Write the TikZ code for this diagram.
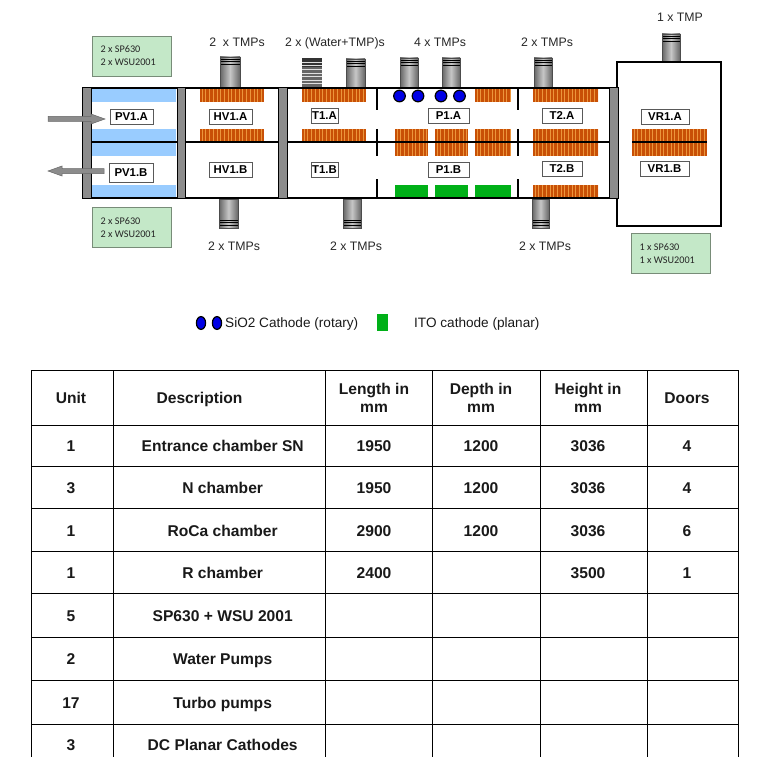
\documentclass[tikz,border=0pt]{standalone}
\usepackage{fontspec}
\setmainfont{Liberation Sans}
\newfontfamily\notefont{Carlito}
\usetikzlibrary{arrows.meta, positioning, calc}
\definecolor{brickred}{RGB}{200, 80, 6}
\definecolor{brickline}{RGB}{236, 150, 60}
\definecolor{coatblue}{RGB}{153, 204, 255}
\definecolor{notegreen}{RGB}{196, 232, 200}
\definecolor{noteline}{RGB}{120, 140, 120}
\definecolor{cathgreen}{RGB}{0, 176, 24}
\definecolor{wallgray}{RGB}{140, 140, 140}
\tikzset{
  wall/.style={line width=2.2pt, black},
  doorbar/.style={fill=wallgray, draw=black, line width=1pt},
  tag/.style={draw=black!65, fill=white, line width=0.7pt, inner sep=0pt, font=\fontsize{11.4}{13}\selectfont\bfseries},
  note/.style={draw=noteline, fill=notegreen, line width=0.8pt, minimum width=79pt, minimum height=40pt, inner sep=0pt,
    align=left, text=black!85, font=\notefont\fontsize{10.2}{13}\selectfont},
  pumpcount/.style={font=\fontsize{12.3}{14}\selectfont, text=black!85, text height=9pt, text depth=2.5pt},
  legendtext/.style={font=\fontsize{13.6}{15}\selectfont, text=black!90, text height=10pt, text depth=3pt},
  headcell/.style={font=\fontsize{15.6}{18}\selectfont\bfseries, text=black!90, align=center},
  cell/.style={headcell, text height=11.5pt, text depth=3pt},
  pumpbody/.style={left color=black!60, right color=black!60, middle color=black!22, draw=none},
  flowarrow/.style={fill=wallgray, draw=black!60, line width=0.5pt}
}
% brick strip: x1, y1, x2, y2
\newcommand{\brickstrip}[4]{
  \fill[brickred] (#1, #2) rectangle (#3, #4);
  \begin{scope}
    \clip (#1, #2) rectangle (#3, #4);
    \foreach \n in {0, ..., 20} {
      \draw[brickline, line width=0.5pt] (#1+2+3.7*\n, #2) -- (#1+2+3.7*\n, #4);
    }
  \end{scope}
}
% pump: x1, x2, y at flange end, y at chamber end
\newcommand{\pumpbox}[5]{
  \fill[pumpbody] (#1, #3) rectangle (#2, #4);
  \foreach \d in {0, 2.6, 5.2} {
    \draw[black, line width=0.8pt] (#1, #5+\d) -- (#2, #5+\d);
  }
  \draw[black!70, line width=0.5pt] (#1, #3) rectangle (#2, #4);
}
\begin{document}
\begin{tikzpicture}[x=1pt, y=-1pt]
  \useasboundingbox (0, 0) rectangle (757, 757);

  % Coating strips in the entrance chamber
  \fill[coatblue] (92, 89) rectangle (176, 102);
  \fill[coatblue] (92, 129) rectangle (176, 141);
  \fill[coatblue] (92, 143) rectangle (176, 156);
  \fill[coatblue] (92, 185) rectangle (176, 198);

  % Brick strips
  \brickstrip{200}{89}{264}{102}
  \brickstrip{200}{129}{264}{142}
  \brickstrip{302}{89}{366}{102}
  \brickstrip{302}{129}{366}{142}
  \brickstrip{475}{89}{511}{102}
  \foreach \xa/\xb in {395/428, 435/468, 475/511, 533/598, 632/707} {
    \brickstrip{\xa}{129}{\xb}{156}
  }
  \brickstrip{533}{89}{598}{102}
  \brickstrip{533}{185}{598}{198}
  \foreach \xa/\xb in {395/428, 435/468, 475/511} {
    \fill[cathgreen] (\xa, 185) rectangle (\xb, 199);
  }

  % Pumps
  \pumpbox{220}{240}{57}{87}{59}
  \pumpbox{346}{365}{59}{87}{61}
  \pumpbox{400}{418}{58}{87}{60}
  \pumpbox{442}{460}{58}{87}{60}
  \pumpbox{534}{552}{58}{87}{60}
  \pumpbox{662}{680}{34}{62}{36}
  \pumpbox{219}{238}{199}{228}{220}
  \pumpbox{343}{361}{199}{228}{220}
  \pumpbox{532}{549}{199}{228}{220}
  % Water pump
  \fill[black!60] (302, 58) rectangle (322, 87);
  \fill[black!80] (302, 58) rectangle (322, 67);
  \foreach \y in {62, 65, 69, 73, 76.5, 80, 83.5} {
    \draw[black!12, line width=0.8pt] (302, \y) -- (322, \y);
  }

  % Chamber walls
  \draw[wall] (82, 88) -- (618, 88);
  \draw[wall] (82, 142) -- (618, 142);
  \draw[wall] (82, 198) -- (618, 198);
  \draw[wall] (632, 142) -- (707, 142);
  \draw[wall] (617, 62) rectangle (721, 226);
  \foreach \xa/\xb in {82/91, 177/185, 278/287, 609/618} {
    \draw[doorbar] (\xa, 88) rectangle (\xb, 198);
  }
  \foreach \x in {377, 518} {
    \draw[wall] (\x, 88) -- (\x, 110);
    \draw[wall] (\x, 129) -- (\x, 156);
    \draw[wall] (\x, 179) -- (\x, 199);
  }

  % Rotary cathodes
  \foreach \x in {399.5, 418, 441, 459.5} {
    \fill[blue!90!black, draw=black, line width=1.2pt] (\x, 96) circle (5.8pt);
  }

  % Chamber tags
  \node[tag, minimum width=43pt, minimum height=15pt] (pva) at (131.5, 116.5) {PV1.A};
  \node[tag, minimum width=44pt, minimum height=19pt] (pvb) at (131, 172.5) {PV1.B};
  \node[tag, minimum width=43pt, minimum height=15pt] (hva) at (230.5, 116.5) {HV1.A};
  \node[tag, minimum width=43pt, minimum height=15pt] (hvb) at (230.5, 169.5) {HV1.B};
  \node[tag, minimum width=27pt, minimum height=15pt] (tia) at (324.5, 115.5) {T1.A};
  \node[tag, minimum width=27pt, minimum height=15pt] (tib) at (324.5, 169.5) {T1.B};
  \node[tag, minimum width=41pt, minimum height=15pt] (pa) at (448.5, 116) {P1.A};
  \node[tag, minimum width=41pt, minimum height=15pt] (pb) at (448.5, 169.5) {P1.B};
  \node[tag, minimum width=40pt, minimum height=15pt] (tta) at (562, 116) {T2.A};
  \node[tag, minimum width=40pt, minimum height=15pt] (ttb) at (562, 169) {T2.B};
  \node[tag, minimum width=48pt, minimum height=15pt] (vra) at (665, 117) {VR1.A};
  \node[tag, minimum width=49pt, minimum height=15pt] (vrb) at (664.5, 169) {VR1.B};

  % Load and unload arrows
  \draw[flowarrow] (48, 116.5) -- (91, 116.5) -- (91, 114) -- (105, 119) -- (91, 124) -- (91, 121.5) -- (48, 121.5) -- cycle;
  \draw[flowarrow] (104, 168.5) -- (62, 168.5) -- (62, 166) -- (48, 171) -- (62, 176) -- (62, 173.5) -- (104, 173.5) -- cycle;

  % Pump notes
  \node[note] (notea) at (131.5, 56) {\hspace*{-6.5pt}2 x SP630\\\hspace*{-6.5pt}2 x WSU2001};
  \node[note] (noteb) at (131.5, 227.5) {\hspace*{-6.5pt}2 x SP630\\\hspace*{-6.5pt}2 x WSU2001};
  \node[note] (notec) at (670.5, 253.5) {\hspace*{-6.5pt}1 x SP630\\\hspace*{-6.5pt}1 x WSU2001};

  % Pump counts
  \node[pumpcount] (cnta) at (237, 43) {2\ \ x TMPs};
  \node[pumpcount] (cntb) at (335, 43) {2 x (Water+TMP)s};
  \node[pumpcount] (cntc) at (440, 43) {4 x TMPs};
  \node[pumpcount] (cntd) at (547, 43) {2 x TMPs};
  \node[pumpcount] (cnte) at (680, 18) {1 x TMP};
  \node[pumpcount] (cntf) at (234, 247) {2 x TMPs};
  \node[pumpcount] (cntg) at (356, 247) {2 x TMPs};
  \node[pumpcount] (cnth) at (545, 247) {2 x TMPs};

  % Legend
  \foreach \x in {201, 217} {
    \fill[blue!90!black, draw=black, line width=1.2pt] (\x, 323) ellipse (4.6pt and 6.4pt);
  }
  \node[legendtext, anchor=west, inner sep=0pt] (sio) at (225, 323.5) {SiO2 Cathode (rotary)};
  \fill[cathgreen] (377, 314) rectangle (388, 331);
  \node[legendtext, anchor=west, inner sep=0pt] (ito) at (414, 323.5) {ITO cathode (planar)};

  % Table grid
  \foreach \y in {370, 425.3, 466.7, 508.3, 551.3, 593.3, 637.3, 680.3, 724.3} {
    \draw[line width=0.8pt] (31.3, \y) -- (738.3, \y);
  }
  \foreach \x in {31.3, 113.7, 325.3, 432.3, 540.3, 647.3, 738.3} {
    \draw[line width=0.8pt] (\x, 370) -- (\x, 757);
  }

  % Table header
  \node[cell] (hunit) at (71, 399) {Unit};
  \node[cell] (hdesc) at (199.5, 399) {Description};
  \node[headcell] (hlen) at (374, 398) {Length in\\mm};
  \node[headcell] (hdep) at (481, 398) {Depth in\\mm};
  \node[headcell] (hhei) at (588, 398) {Height in\\mm};
  \node[cell] (hdoo) at (687, 399) {Doors};

  % Table rows
  \foreach \r/\y/\u/\d in {1/447/1/Entrance chamber SN, 2/489/3/N chamber, 3/532/1/RoCa chamber, 4/574/1/R chamber,
      5/617/5/SP630 + WSU 2001, 6/660/2/Water Pumps, 7/704/17/Turbo pumps, 8/746/3/DC Planar Cathodes} {
    \node[cell] (unit\r) at (71, \y) {\u};
    \node[cell] (desc\r) at (222.7, \y) {\d};
  }
  \foreach \r/\y/\l/\p/\h/\n in {1/447/1950/1200/3036/4, 2/489/1950/1200/3036/4, 3/532/2900/1200/3036/6, 4/574/2400//3500/1} {
    \node[cell] (len\r) at (374, \y) {\l};
    \node[cell] (dep\r) at (481, \y) {\p};
    \node[cell] (hei\r) at (588, \y) {\h};
    \node[cell] (doo\r) at (687, \y) {\n};
  }
\end{tikzpicture}
\end{document}
